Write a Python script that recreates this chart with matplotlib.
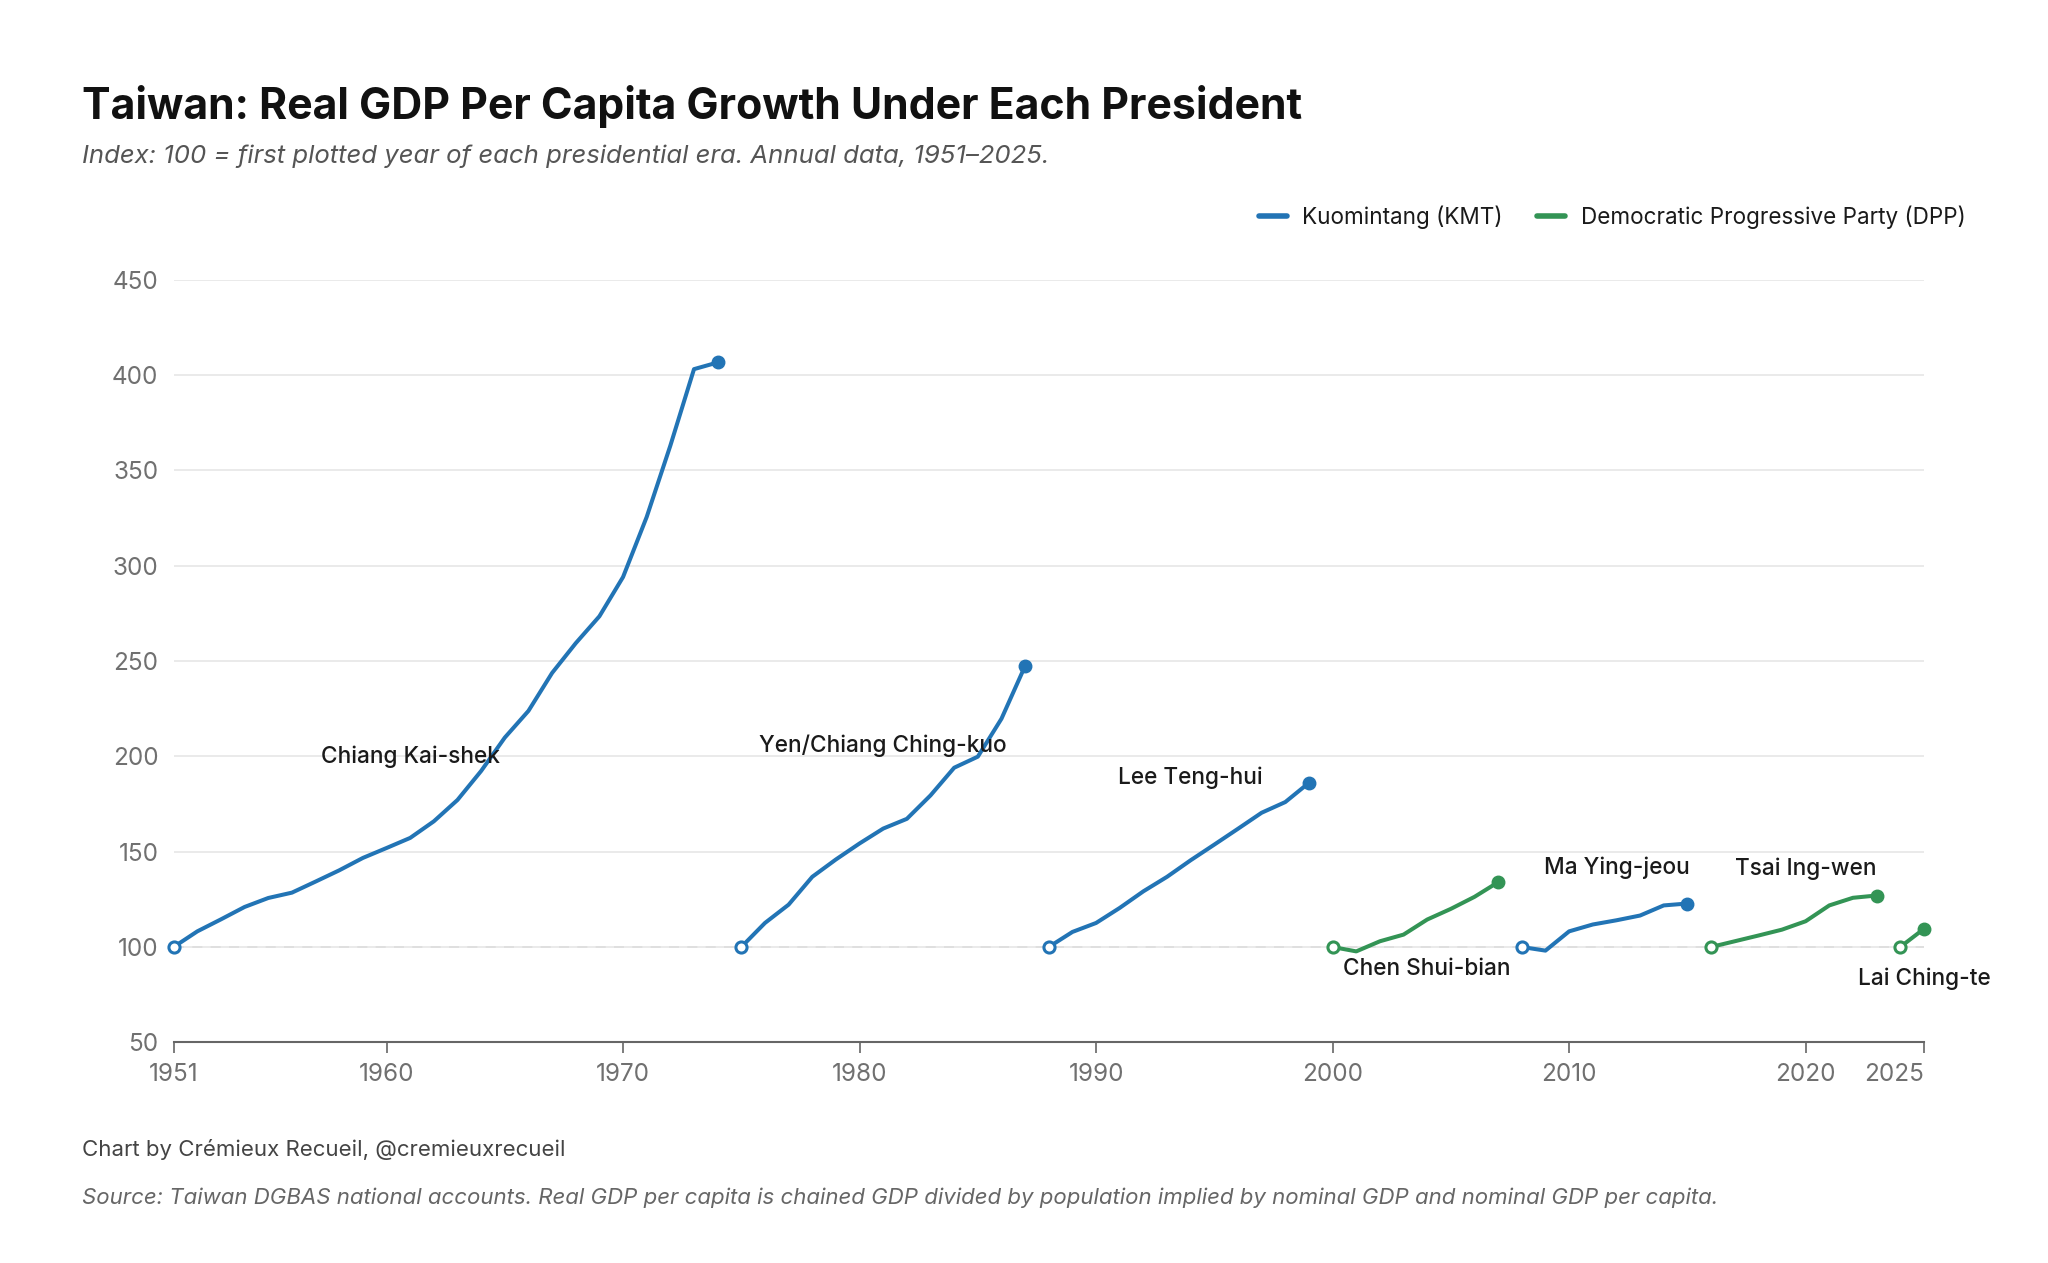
import matplotlib
matplotlib.use("Agg")
import matplotlib.pyplot as plt
from matplotlib.lines import Line2D

plt.rcParams['font.family'] = ['Inter', 'DejaVu Sans']

# Series: index (100 = first plotted year of each era)
chiang_years = list(range(1951, 1975))
chiang_vals = [100, 108.2, 114.5, 121, 125.7, 128.5, 134.3, 140.2, 146.7, 151.9,
               157.2, 165.9, 177.1, 192.3, 209.8, 223.8, 243.7, 259.3, 273.4, 294,
               325.5, 362.9, 403, 406.5]

yen_years = list(range(1975, 1988))
yen_vals = [100, 112.6, 122.2, 136.8, 145.9, 154.3, 162.1, 167.2, 179.5, 194,
            199.8, 219.7, 247.4]

lee_years = list(range(1988, 2000))
lee_vals = [100, 107.9, 112.6, 120.5, 129.2, 136.8, 145.5, 153.7, 162, 170.4,
            176, 186.1]

chen_years = list(range(2000, 2008))
chen_vals = [100, 97.7, 103, 106.5, 114.4, 120, 126.3, 134]

ma_years = list(range(2008, 2016))
ma_vals = [100, 98.1, 108.2, 111.8, 114, 116.5, 121.8, 122.8]

tsai_years = list(range(2016, 2024))
tsai_vals = [100, 103, 106, 109.1, 113.5, 121.8, 125.8, 127]

lai_years = [2024, 2025]
lai_vals = [100, 109.5]

presidents = ['Chiang Kai-shek', 'Yen/Chiang Ching-kuo', 'Lee Teng-hui',
              'Chen Shui-bian', 'Ma Ying-jeou', 'Tsai Ing-wen', 'Lai Ching-te']
parties = ['KMT', 'KMT', 'KMT', 'DPP', 'KMT', 'DPP', 'DPP']
years = [chiang_years, yen_years, lee_years, chen_years, ma_years, tsai_years, lai_years]
values = [chiang_vals, yen_vals, lee_vals, chen_vals, ma_vals, tsai_vals, lai_vals]
label_x = [1961, 1981, 1994, 2004, 2012, 2020, 2025]
label_y = [200, 205.5, 189, 88.4, 141.8, 141, 83.6]

xticks = [1951, 1960, 1970, 1980, 1990, 2000, 2010, 2020, 2025]
yticks = [50, 100, 150, 200, 250, 300, 350, 400, 450]

colors = {'KMT': '#2274b5', 'DPP': '#339455'}

fig = plt.figure(figsize=(20.48, 12.63), dpi=100)
ax = fig.add_axes([0.0848, 0.1747, 0.8546, 0.604])

ax.axhline(100, color='#dddddd', lw=1.2, ls=(0, (6, 5)), zorder=1)

for yrs, vals, party in zip(years, values, parties):
    c = colors[party]
    ax.plot(yrs, vals, color=c, lw=2.9, solid_joinstyle='round', zorder=3)
    ax.plot(yrs[0], vals[0], 'o', ms=8, mfc='white', mec=c, mew=2.2, zorder=4,
            clip_on=False)
    ax.plot(yrs[-1], vals[-1], 'o', ms=9, mfc=c, mec=c, zorder=4, clip_on=False)

for name, lx, ly in zip(presidents, label_x, label_y):
    ax.text(lx, ly, name, ha='center', va='center', fontsize=16.3,
            fontweight='medium', color='#1a1a1a', zorder=5)

ax.set_xlim(1951, 2025)
ax.set_ylim(50, 450)
ax.set_xticks(xticks)
ax.set_yticks(yticks)
ax.tick_params(axis='x', length=8, width=1.2, color='#666666', pad=7,
               labelsize=17.5, labelcolor='#707070')
ax.tick_params(axis='y', length=0, pad=11, labelsize=17.5, labelcolor='#707070')
ax.get_xticklabels()[-1].set_horizontalalignment('right')
ax.grid(axis='y', color='#e6e6e6', lw=1.2)
ax.set_axisbelow(True)
for s in ['top', 'right', 'left']:
    ax.spines[s].set_visible(False)
ax.spines['bottom'].set_color('#666666')
ax.spines['bottom'].set_linewidth(1.5)

handles = [Line2D([], [], color=colors['KMT'], lw=4, solid_capstyle='round'),
           Line2D([], [], color=colors['DPP'], lw=4, solid_capstyle='round')]
fig.legend(handles, ['Kuomintang (KMT)', 'Democratic Progressive Party (DPP)'],
           loc='center right', bbox_to_anchor=(0.9695, 0.8283), ncol=2,
           frameon=False, fontsize=16.2, handlelength=1.25, handletextpad=0.7,
           columnspacing=1.5, labelcolor='#1a1a1a')

fig.text(0.040, 0.906, 'Taiwan: Real GDP Per Capita Growth Under Each President',
         fontsize=30.8, fontweight='bold', color='#111111', va='baseline')
fig.text(0.040, 0.871, 'Index: 100 = first plotted year of each presidential era. Annual data, 1951\u20132025.',
         fontsize=18.5, style='italic', color='#555555', va='baseline')
fig.text(0.040, 0.0848, 'Chart by Cr\u00e9mieux Recueil, @cremieuxrecueil',
         fontsize=16, color='#444444', va='baseline')
fig.text(0.040, 0.0467, 'Source: Taiwan DGBAS national accounts. Real GDP per capita is chained GDP divided by population implied by nominal GDP and nominal GDP per capita.',
         fontsize=16, style='italic', color='#666666', va='baseline')

fig.savefig('out.png', dpi=100, facecolor='white')
